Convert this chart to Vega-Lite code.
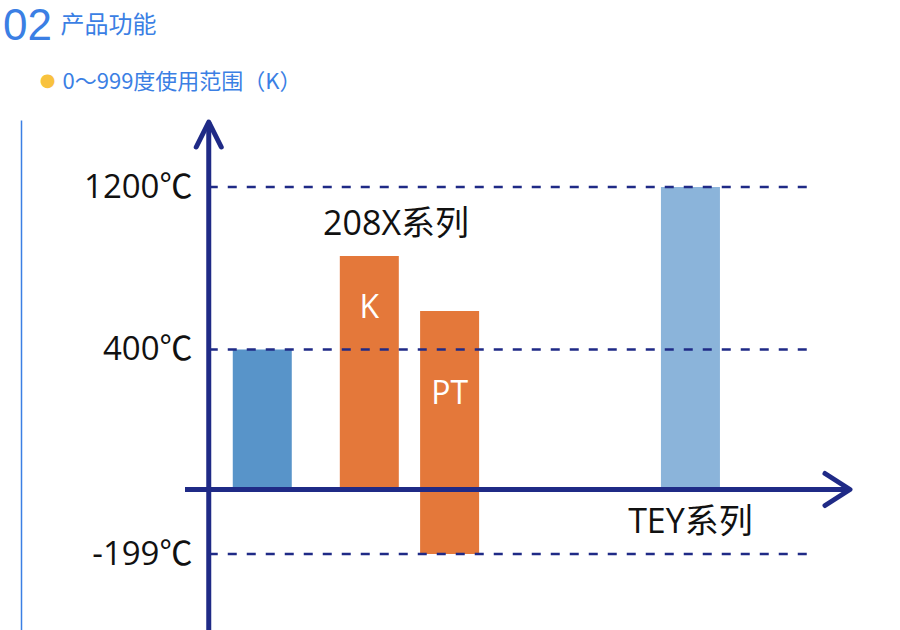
{
  "$schema": "https://vega.github.io/schema/vega-lite/v6.json",
  "width": 663,
  "height": 510,
  "autosize": {"type": "none"},
  "padding": {"left": 185, "top": 120, "right": 52, "bottom": 0},
  "background": "white",
  "config": {"view": {"stroke": null}, "font": "Open Sans, Noto Sans CJK SC"},
  "title": {
    "text": "02",
    "orient": "bottom",
    "anchor": "start",
    "frame": "group",
    "offset": 0,
    "dx": -182,
    "dy": -593,
    "fontSize": 44,
    "fontWeight": "normal",
    "color": "#3B7FE4",
    "font": "Liberation Sans",
    "baseline": "alphabetic"
  },
  "resolve": {"axis": {"x": "independent", "y": "independent"}},
  "datasets": {
    "bars": [
      {"cat": "ref", "lo": 0, "hi": 400},
      {"cat": "K", "lo": 0, "hi": 860, "label": "K", "labelAt": 604},
      {"cat": "PT", "lo": -199, "hi": 590, "label": "PT", "labelAt": 273},
      {"cat": "TEY", "lo": 0, "hi": 1200}
    ],
    "levels": [{"v": 1200}, {"v": 400}, {"v": -199}],
    "notes": [
      {"text": "208X系列", "cat": "s7", "at": 1013},
      {"text": "TEY系列", "cat": "TEY", "at": -103}
    ],
    "frame": [{}]
  },
  "layer": [
    {
      "data": {"name": "bars"},
      "mark": {"type": "bar", "width": 59},
      "encoding": {
        "x": {
          "field": "cat", "type": "nominal",
          "scale": {"type": "band", "domain": ["ax","s1","ref","s3","s4","s5","K","s7","s8","PT","s10","s11","s12","s13","s14","s15","s16","s17","TEY","s19","s20","s21","s22","s23"], "paddingInner": 0, "paddingOuter": 0.3875},
          "axis": {
            "domain": false, "ticks": false, "labels": false, "grid": false,
            "title": "0～999度使用范围（K）",
            "titleX": -123, "titleY": -542,
            "titleAlign": "left", "titleBaseline": "alphabetic",
            "titleFontSize": 22, "titleFontWeight": "normal",
            "titleColor": "#3B7FE4", "titleFont": "Noto Sans CJK SC"
          }
        },
        "y": {
          "field": "hi", "type": "quantitative",
          "scale": {"type": "linear", "domain": [-433.5, -199, 0, 400, 1200, 1530], "range": [510, 434, 369.5, 229.5, 67, 0], "nice": false, "zero": false},
          "axis": null
        },
        "y2": {"field": "lo"},
        "color": {
          "field": "cat", "type": "nominal",
          "scale": {"domain": ["ref", "K", "PT", "TEY"], "range": ["#5894C9", "#E4783A", "#E4783A", "#8BB4DA"]},
          "legend": null
        }
      }
    },
    {
      "data": {"name": "levels"},
      "mark": {"type": "rule", "strokeDash": [9, 10], "strokeWidth": 2.5, "color": "#1F2A86", "x2Offset": -12},
      "encoding": {
        "x": {"datum": "ax", "type": "nominal", "axis": null},
        "x2": {"datum": "s23"},
        "y": {
          "field": "v", "type": "quantitative",
          "axis": {
            "values": [1200, 400, -199],
            "labelExpr": "datum.value + '℃'",
            "domain": false, "ticks": false, "grid": false,
            "labelFontSize": 33, "labelColor": "#111111",
            "labelFont": "Open Sans, Noto Sans CJK SC",
            "labelPadding": 15, "offset": -22,
            "labelOverlap": false, "labelFlush": false, "labelBaseline": "middle",
            "title": "产品功能",
            "titleX": -147, "titleY": -88, "titleAngle": 0,
            "titleAlign": "left", "titleBaseline": "alphabetic",
            "titleFontSize": 24, "titleFontWeight": "normal",
            "titleColor": "#3B7FE4", "titleFont": "Noto Sans CJK SC"
          }
        }
      }
    },
    {
      "data": {"name": "frame"},
      "mark": {"type": "rule", "strokeWidth": 5, "color": "#1F2A86"},
      "encoding": {
        "y": {"datum": 0, "type": "quantitative", "axis": null}
      }
    },
    {
      "data": {"name": "frame"},
      "mark": {"type": "rule", "strokeWidth": 5, "color": "#1F2A86"},
      "encoding": {
        "x": {"datum": "ax", "type": "nominal", "axis": null},
        "y": {
          "datum": 1520, "type": "quantitative",
          "axis": {
            "orient": "left", "offset": 164,
            "domain": true, "domainColor": "#3B7FE4", "domainWidth": 1.5,
            "labels": false, "ticks": false, "grid": false,
            "title": "●",
            "titleX": 26, "titleY": -40, "titleAngle": 0,
            "titleAlign": "center", "titleBaseline": "middle",
            "titleFontSize": 18, "titleFontWeight": "normal",
            "titleColor": "#F8C23E", "titleFont": "DejaVu Sans"
          }
        },
        "y2": {"datum": -433.5}
      }
    },
    {
      "data": {"name": "frame"},
      "mark": {"type": "point", "shape": "M-0.5,1.08 L0,0.08 L0.5,1.08", "size": 2500, "filled": false, "stroke": "#1F2A86", "strokeWidth": 5, "opacity": 1, "strokeCap": "round", "strokeJoin": "round"},
      "encoding": {
        "x": {"datum": "ax", "type": "nominal", "axis": null},
        "y": {"datum": 1530, "type": "quantitative", "axis": null}
      }
    },
    {
      "data": {"name": "frame"},
      "mark": {"type": "point", "shape": "M0.03,-0.64 L1.03,0 L0.03,0.64", "size": 2500, "filled": false, "stroke": "#1F2A86", "strokeWidth": 5, "opacity": 1, "strokeCap": "round", "strokeJoin": "round"},
      "encoding": {
        "x": {"datum": "s23", "type": "nominal", "axis": null},
        "y": {"datum": 0, "type": "quantitative", "axis": null}
      }
    },
    {
      "data": {"name": "notes"},
      "mark": {"type": "text", "fontSize": 34, "color": "#111111", "baseline": "middle", "align": "center", "font": "Open Sans, Noto Sans CJK SC"},
      "encoding": {
        "x": {"field": "cat", "type": "nominal", "axis": null},
        "y": {"field": "at", "type": "quantitative", "axis": null},
        "text": {"field": "text"}
      }
    },
    {
      "data": {"name": "bars"},
      "transform": [{"filter": "datum.label"}],
      "mark": {"type": "text", "fontSize": 32, "color": "white", "baseline": "middle", "align": "center", "font": "Open Sans, Noto Sans CJK SC"},
      "encoding": {
        "x": {"field": "cat", "type": "nominal", "axis": null},
        "y": {"field": "labelAt", "type": "quantitative", "axis": null},
        "text": {"field": "label"}
      }
    }
  ]
}
